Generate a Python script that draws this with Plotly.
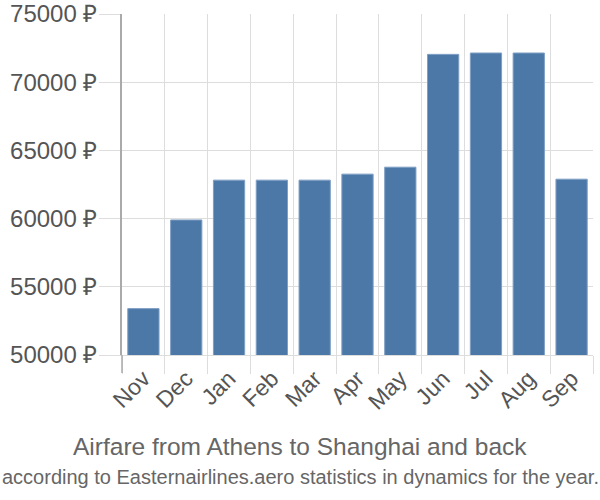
import plotly.graph_objects as go

months = ["Nov", "Dec", "Jan", "Feb", "Mar", "Apr", "May", "Jun", "Jul", "Aug", "Sep"]
prices = [53400, 59900, 62820, 62820, 62820, 63260, 63770, 72040, 72140, 72140, 62890]
y_ticks = [50000, 55000, 60000, 65000, 70000, 75000]
title = "Airfare from Athens to Shanghai and back"
subtitle = "according to Easternairlines.aero statistics in dynamics for the year."

L, R, T, B = 122, 7, 14, 145
W, H = 600, 500
plot_w = W - L - R
plot_h = H - T - B

fig = go.Figure()
fig.add_trace(go.Bar(
    x=months, y=prices,
    marker=dict(color="#4c78a8", line=dict(color="#7f9fc4", width=1)),
))

fig.update_layout(
    width=W, height=H,
    margin=dict(l=L, r=R, t=T, b=B, autoexpand=False),
    plot_bgcolor="white", paper_bgcolor="white",
    bargap=0.27,
    showlegend=False,
    font=dict(family="Liberation Sans, Arial, sans-serif", color="#555555"),
    xaxis=dict(
        type="category",
        tickson="boundaries",
        automargin=False,
        showgrid=True, gridcolor="#dddddd", gridwidth=1,
        ticks="outside", ticklen=18, tickcolor="#dddddd",
        tickangle=-45,
        tickfont=dict(size=23, color="#555555"),
        showline=True, linecolor="#dddddd", linewidth=1,
    ),
    yaxis=dict(
        range=[50000, 75000],
        automargin=False,
        tickvals=y_ticks,
        ticktext=[f"{v} ₽" for v in y_ticks],
        showgrid=True, gridcolor="#dddddd", gridwidth=1,
        ticks="outside", ticklen=21, tickcolor="#dddddd",
        ticklabelstandoff=-3,
        tickfont=dict(size=24, color="#555555"),
        showline=True, linecolor="#aaaaaa", linewidth=1.5,
        zeroline=False,
    ),
    annotations=[
        dict(text=title, x=(W / 2 - L) / plot_w, xref="paper", xanchor="center",
             y=(H - B - 446) / plot_h, yref="paper", yanchor="middle", showarrow=False,
             font=dict(size=24.5, color="#666666")),
        dict(text=subtitle, x=(W / 2 - L) / plot_w, xref="paper", xanchor="center",
             y=(H - B - 477) / plot_h, yref="paper", yanchor="middle", showarrow=False,
             font=dict(size=20, color="#666666")),
    ],
)

fig.add_shape(type="line", xref="paper", yref="paper", x0=0, x1=0, y0=-18 / plot_h, y1=0,
              line=dict(color="#aaaaaa", width=1.5))

fig.write_html("out.html")
